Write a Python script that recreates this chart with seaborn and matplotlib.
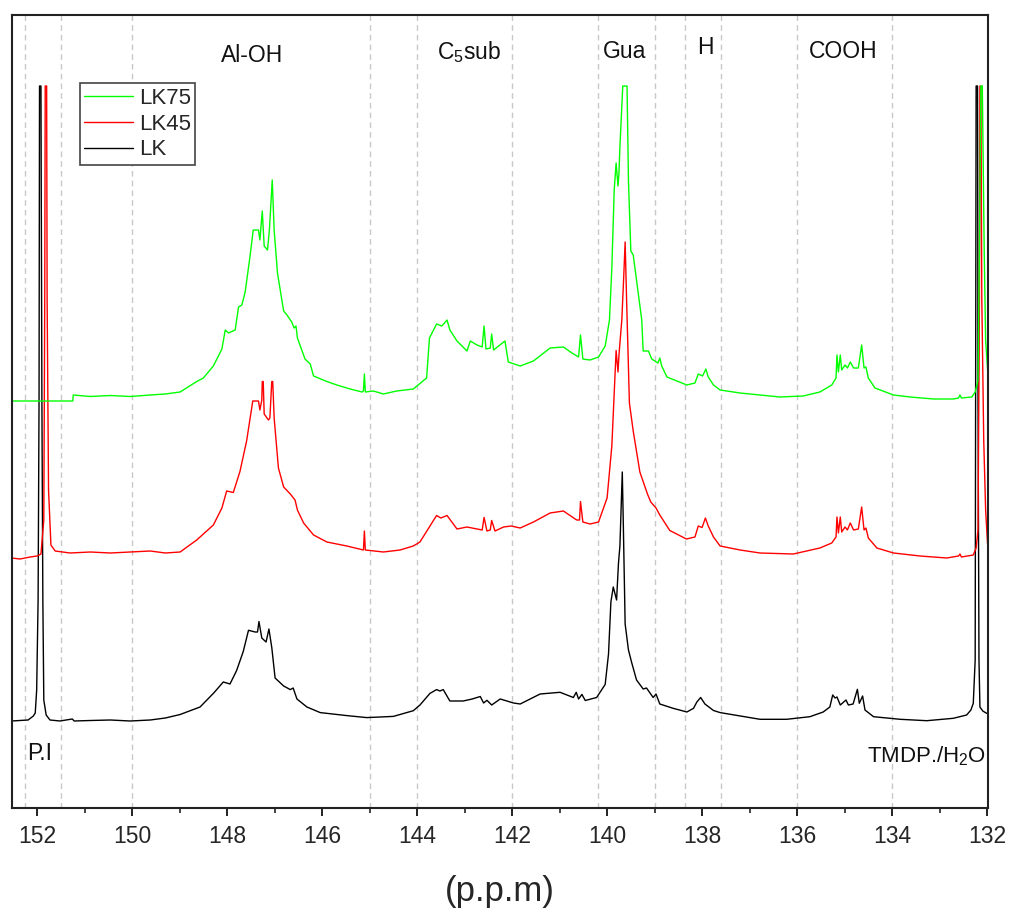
import numpy as np
import pandas as pd
import matplotlib
matplotlib.use("Agg")
import matplotlib.pyplot as plt
import seaborn as sns
from matplotlib.lines import Line2D

# ---------------- data (ppm, stacked intensity) ----------------
lk75_ppm = [152.54, 151.25, 151.24, 150.88, 150.46, 150.04, 149.62, 149.30, 148.99, 148.64,
            148.50, 148.29, 148.11, 148.04, 147.97, 147.83, 147.76, 147.69, 147.62, 147.52,
            147.45, 147.34, 147.31, 147.26, 147.22, 147.15, 147.11, 147.05, 147.01, 146.94,
            146.81, 146.74, 146.64, 146.59, 146.55, 146.52, 146.36, 146.25, 146.18, 145.90,
            145.69, 145.41, 145.16, 145.13, 145.11, 145.09, 144.92, 144.71, 144.43, 144.08,
            143.80, 143.74, 143.59, 143.48, 143.37, 143.31, 143.16, 142.95, 142.88, 142.74,
            142.63, 142.59, 142.55, 142.46, 142.43, 142.39, 142.15, 142.08, 141.83, 141.55,
            141.20, 140.92, 140.74, 140.60, 140.56, 140.51, 140.36, 140.18, 140.04, 139.95,
            139.90, 139.85, 139.81, 139.77, 139.75, 139.73, 139.67, 139.58, 139.55, 139.50,
            139.45, 139.27, 139.24, 139.13, 139.06, 138.93, 138.89, 138.85, 138.74, 138.53,
            138.32, 138.15, 138.08, 137.99, 137.92, 137.87, 137.76, 137.62, 137.20, 136.78,
            136.36, 135.87, 135.52, 135.27, 135.18, 135.16, 135.13, 135.09, 135.06, 134.99,
            134.94, 134.88, 134.81, 134.71, 134.64, 134.59, 134.55, 134.50, 134.36, 133.97,
            133.62, 133.13, 132.71, 132.60, 132.57, 132.54, 132.32, 132.25, 132.19, 132.16,
            132.13, 132.10, 132.06, 132.03, 131.97]
lk75_int = [407, 407, 413, 411.5, 412.5, 411.5, 413, 414, 416, 426.5,
            430, 442, 459, 478, 475, 478, 501, 503, 516, 551,
            578, 578, 568, 597, 562, 558, 578, 628, 578, 535,
            497, 493, 486, 480, 482, 470, 449, 444, 432, 426.5,
            423, 419, 416, 417, 434, 416, 417, 414, 417, 419,
            430, 470, 484, 482, 488, 478, 467, 457, 467, 463,
            461, 482, 459, 460, 474, 458, 467, 446, 442, 447,
            460, 461, 455, 451, 473, 449, 448, 451, 462, 488,
            540, 618, 645, 622, 635, 661, 722, 722, 627, 557,
            553, 488, 457, 457, 449, 445, 450, 442, 431, 427,
            423, 425, 434, 432, 439, 431, 423, 418, 415, 413,
            411, 412, 416, 423, 430, 453, 436, 453, 438, 443,
            440, 446, 440, 440, 463, 440, 441, 430, 420, 413,
            411, 409, 409, 410, 413, 410, 411, 416, 428, 558,
            722, 722, 558, 468, 425]

lk45_ppm = [152.54, 152.36, 152.15, 152.00, 151.92, 151.86, 151.84, 151.83, 151.80, 151.79,
            151.76, 151.71, 151.62, 151.31, 150.88, 150.46, 150.04, 149.62, 149.30, 148.99,
            148.64, 148.29, 148.11, 148.01, 147.87, 147.73, 147.59, 147.46, 147.34, 147.31,
            147.27, 147.26, 147.24, 147.22, 147.13, 147.10, 147.06, 147.04, 147.01, 146.92,
            146.81, 146.67, 146.57, 146.52, 146.39, 146.18, 145.90, 145.48, 145.13, 145.11,
            145.09, 144.71, 144.36, 144.08, 143.94, 143.69, 143.59, 143.50, 143.37, 143.16,
            142.95, 142.74, 142.63, 142.59, 142.53, 142.46, 142.43, 142.36, 142.18, 142.02,
            141.83, 141.55, 141.20, 140.92, 140.64, 140.58, 140.56, 140.51, 140.36, 140.18,
            140.00, 139.90, 139.81, 139.77, 139.75, 139.69, 139.65, 139.62, 139.59, 139.53,
            139.45, 139.31, 139.15, 139.08, 138.97, 138.89, 138.68, 138.33, 138.15, 138.08,
            138.00, 137.93, 137.87, 137.76, 137.62, 137.20, 136.78, 136.08, 135.52, 135.27,
            135.18, 135.16, 135.13, 135.09, 135.06, 134.99, 134.94, 134.88, 134.81, 134.71,
            134.64, 134.59, 134.55, 134.50, 134.32, 133.97, 133.41, 132.85, 132.60, 132.57,
            132.54, 132.29, 132.23, 132.19, 132.16, 132.15, 132.13, 132.11, 132.07, 132.03,
            131.99]
lk45_int = [250, 249, 251, 252, 254, 288, 508, 722, 722, 508,
            318, 263, 257, 255, 256, 255, 256, 257, 255, 256,
            268, 283, 300, 317, 315.5, 336.5, 367, 407, 407, 398,
            408, 426.5, 426.5, 394, 388, 390, 426.5, 426.5, 390, 340,
            321, 314, 308, 298, 285, 273, 266, 262, 258, 277,
            258, 256, 258, 262, 266, 285, 292.5, 290, 292.5, 279,
            281, 279, 278, 290.6, 277, 278, 287.5, 277, 281, 282,
            280, 286, 295, 297, 288, 288, 306.5, 286, 284, 286,
            310, 362, 457.5, 436, 453, 488, 531, 566, 509.5, 405,
            377, 336, 314, 306, 300, 293, 277.5, 269, 271, 282,
            280.5, 290, 282, 271, 262, 258, 255, 254, 260, 265,
            271, 291, 275, 291, 276, 281, 278, 285, 278, 279,
            301, 278, 280, 270, 260, 255, 252, 250, 252, 254,
            251, 253, 260, 278, 508, 722, 722, 508, 368, 298,
            264.5]

lk_ppm = [152.54, 152.36, 152.19, 152.08, 152.04, 152.01, 151.98, 151.96, 151.95, 151.92,
          151.90, 151.88, 151.86, 151.81, 151.73, 151.52, 151.26, 151.22, 150.88, 150.46,
          150.04, 149.62, 149.30, 148.99, 148.57, 148.29, 148.08, 147.94, 147.80, 147.66,
          147.55, 147.41, 147.36, 147.33, 147.27, 147.18, 147.12, 147.06, 146.99, 146.81,
          146.67, 146.61, 146.53, 146.32, 146.04, 145.48, 145.06, 144.50, 144.08, 143.94,
          143.73, 143.59, 143.52, 143.45, 143.31, 143.03, 142.84, 142.67, 142.60, 142.53,
          142.43, 142.25, 141.97, 141.83, 141.41, 140.99, 140.71, 140.65, 140.60, 140.53,
          140.46, 140.22, 140.04, 139.97, 139.92, 139.87, 139.80, 139.76, 139.73, 139.68,
          139.66, 139.62, 139.55, 139.48, 139.38, 139.24, 139.17, 139.03, 138.97, 138.89,
          138.61, 138.32, 138.18, 138.11, 138.03, 137.94, 137.76, 137.62, 137.20, 136.78,
          136.22, 135.73, 135.45, 135.31, 135.25, 135.20, 135.16, 135.09, 134.97, 134.92,
          134.82, 134.73, 134.69, 134.62, 134.57, 134.39, 133.83, 133.27, 132.71, 132.43,
          132.34, 132.29, 132.25, 132.24, 132.23, 132.20, 132.19, 132.17, 132.15, 132.09,
          132.01, 131.98]
lk_int = [87, 87.5, 88, 92, 95, 118, 208, 408, 722, 722,
          408, 208, 108, 93, 88, 87, 89, 87, 87.5, 88,
          87, 88, 90, 93.5, 101, 114.6, 126, 124, 137.5, 156.6,
          177.7, 176, 176, 186.5, 170, 166, 179, 160.5, 130, 122,
          118.4, 120, 109, 101, 95.4, 92.4, 90.4, 91.6, 97.3, 103,
          114.6, 118.4, 117, 118.4, 107, 107, 109, 111.5, 105, 107.7,
          103, 109, 105, 104, 114, 115.7, 110.5, 115.7, 109, 113.6,
          107.5, 110.5, 123.6, 154, 206, 221, 208, 245, 262, 336,
          288, 184, 158, 145, 128, 119, 120, 110.5, 114, 104,
          99.7, 96, 99.7, 106, 110.5, 104, 97.5, 95.4, 92, 88.7,
          88.7, 91.3, 96, 101, 113, 110, 111, 103, 108, 103,
          104, 118.7, 104.7, 112, 98, 91.3, 88.7, 87.3, 89.7, 93,
          98, 104.7, 148, 408, 722, 722, 408, 148, 101, 97,
          94.7, 95]

samples = ["LK", "LK45", "LK75"]
colors = {"LK": "#000000", "LK45": "#ff0000", "LK75": "#00ff00"}
legend_order = ["LK75", "LK45", "LK"]

region_lines = [152.25, 151.5, 150.0, 145.0, 144.0, 142.0, 140.2, 139.0, 138.35, 137.6, 136.0, 134.0]
top_labels = ["Al-OH", "C$_5$sub", "Gua", "H", "COOH"]
top_label_ppm = [147.48, 142.91, 139.63, 137.94, 135.02]
top_label_y = [753, 756, 756, 760, 757]

df = pd.concat([
    pd.DataFrame({"ppm": lk_ppm, "intensity": lk_int, "sample": "LK"}),
    pd.DataFrame({"ppm": lk45_ppm, "intensity": lk45_int, "sample": "LK45"}),
    pd.DataFrame({"ppm": lk75_ppm, "intensity": lk75_int, "sample": "LK75"}),
], ignore_index=True)

# ---------------- figure ----------------
sns.set_theme(style="white")
plt.rcParams['font.family'] = ['Liberation Sans', 'DejaVu Sans']
plt.rcParams['mathtext.default'] = 'regular'

fig = plt.figure(figsize=(10.11, 9.10), dpi=100)
ax = fig.add_axes([11.5 / 1011, 1 - 808 / 910, (988 - 11.5) / 1011, 793 / 910])

for x in region_lines:
    ax.axvline(x, color="#c8c8c8", lw=1.0, ls=(0, (4, 3)), zorder=0)

sns.lineplot(data=df, x="ppm", y="intensity", hue="sample", hue_order=samples,
             palette=colors, sort=False, estimator=None, lw=1.0, ax=ax, legend=False)

ax.set_xlim(152.54, 131.98)
ax.set_ylim(0, 793)
ax.set_yticks([])
ax.set_ylabel("")
ax.set_xlabel("(p.p.m)", fontsize=25, labelpad=20)
ax.set_xticks(np.arange(132, 153, 2))
ax.set_xticks(np.arange(133, 152, 2), minor=True)
ax.tick_params(axis="x", which="major", direction="out", length=6, width=1.4,
               labelsize=16.5, color="#222222", bottom=True, pad=6)
ax.tick_params(axis="x", which="minor", direction="out", length=3.5, width=1.2,
               color="#222222", bottom=True)
for s in ax.spines.values():
    s.set_color("#222222")
    s.set_linewidth(1.5)

for lab, xp, yp in zip(top_labels, top_label_ppm, top_label_y):
    ax.text(xp, yp, lab, ha="center", va="center", fontsize=16.5, color="#111111")
ax.text(152.21, 54, "P.I", ha="left", va="center", fontsize=16.5, color="#111111")
ax.text(132.03, 52, "TMDP./H$_2$O", ha="right", va="center", fontsize=16, color="#111111")

handles = [Line2D([0], [0], color=colors[k], lw=1.0) for k in legend_order]
leg = ax.legend(handles, legend_order, loc="upper left", bbox_to_anchor=(0.0701, 0.914),
                frameon=True, fancybox=False, edgecolor="#444444", fontsize=16,
                handlelength=2.2, handletextpad=0.25, borderpad=0.2, labelspacing=0.22,
                borderaxespad=0)
leg.get_frame().set_linewidth(1.2)
leg.get_frame().set_facecolor("white")
leg.get_frame().set_alpha(1)

fig.savefig("out.png", dpi=100)
